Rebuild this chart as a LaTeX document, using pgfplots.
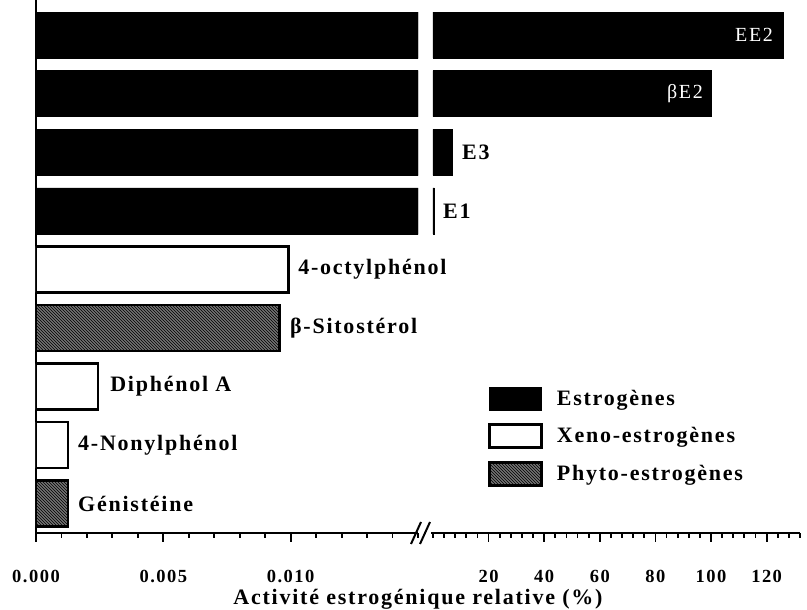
\documentclass[border=0pt]{standalone}
\usepackage{pgfplots}
\pgfplotsset{compat=1.18}
\usetikzlibrary{patterns}
\usepackage{fontspec}
\setmainfont{Liberation Serif}[LetterSpace=8]
\definecolor{phytogray}{gray}{0.45}
\begin{document}
\begin{tikzpicture}
\useasboundingbox (0pt,0pt) rectangle (807pt,610pt);
\pgfplotsset{
  brk/.style={
    scale only axis, anchor=south west,
    height=533pt,
    ymin=-0.5, ymax=8.6,
    ytick=\empty,
    axis x line*=bottom,
    x axis line style={line width=2.5pt,-},
    xtick align=outside,
    major tick length=9pt, minor tick length=5pt,
    tick style={line width=1.8pt, black},
    scaled x ticks=false,
    xticklabel style={font=\bfseries\fontsize{18.5}{18.5}\selectfont, yshift=-25pt},
    /pgf/number format/assume math mode=true,
    xbar, bar width=46pt, bar shift=0pt,
    clip mode=individual,
  },
  estro/.style={fill=black, draw=black, line width=0.6pt},
  xeno/.style={fill=white, draw=black, line width=2.5pt},
  phyto/.style={fill=phytogray, draw=black, line width=2.5pt,
    postaction={pattern=north west lines, pattern color=black}},
}
% ---------- left segment ----------
\begin{axis}[brk,
  at={(36pt,77pt)}, width=382pt,
  xmin=0, xmax=0.015,
  axis y line*=left,
  y axis line style={line width=2.5pt,-},
  xtick={0,0.005,0.010},
  xticklabels={0.000,0.005,0.010},
  minor xtick={0,0.001,...,0.0151},
]
\addplot[estro, restrict x to domain*=0:0.015] coordinates {(126,8) (100,7) (7,6) (0.5,5)};
\addplot[xeno] coordinates {(0.00992,4) (0.00244,2) (0.00126,1)};
\addplot[phyto] coordinates {(0.00957,3) (0.00126,0)};
\begin{scope}[font=\bfseries\fontsize{22}{22}\selectfont, inner sep=0pt]
\node[anchor=west] at (axis cs:0.01029,4) {4-octylphénol};
\node[anchor=west] at (axis cs:0.00997,3) {β-Sitostérol};
\node[anchor=west] at (axis cs:0.00291,2) {Diphénol A};
\node[anchor=west] at (axis cs:0.00165,1) {4-Nonylphénol};
\node[anchor=west] at (axis cs:0.00165,0) {Génistéine};
\end{scope}
\end{axis}
% ---------- right segment ----------
\begin{axis}[brk,
  at={(431pt,77pt)}, width=369pt,
  xmin=-0.7, xmax=132,
  axis y line=none,
  xtick={20,40,...,120},
  minor xtick={0,4,...,132},
  legend image code/.code={\draw[#1] (0pt,-11.5pt) rectangle (52pt,11.5pt);},
  legend cell align=left,
  legend style={draw=none, fill=none, at={(0.155,0.274)}, anchor=north west,
    inner sep=0pt, row sep=12.5pt,
    font=\bfseries\fontsize{22}{22}\selectfont,
    nodes={inner sep=2pt},
    /tikz/every odd column/.append style={column sep=12pt}},
]
\addplot[estro] coordinates {(126,8) (100,7) (7,6) (0.5,5)};
\addlegendentry{Estrogènes}
\addlegendimage{xeno}
\addlegendentry{Xeno-estrogènes}
\addlegendimage{phyto}
\addlegendentry{Phyto-estrogènes}
\node[anchor=east, text=white, inner sep=0pt, font=\fontsize{20}{20}\selectfont] at (axis cs:122.3,8) {EE2};
\node[anchor=east, text=white, inner sep=0pt, font=\fontsize{20}{20}\selectfont] at (axis cs:97.1,7) {βE2};
\node[anchor=west, inner sep=0pt, font=\bfseries\fontsize{22}{22}\selectfont] at (axis cs:10.4,6) {E3};
\node[anchor=west, inner sep=0pt, font=\bfseries\fontsize{22}{22}\selectfont] at (axis cs:3.6,5) {E1};
\end{axis}
% axis break marks
\draw[line width=2pt] (411pt,66pt) -- (421pt,88pt);
\draw[line width=2pt] (420pt,66pt) -- (430pt,88pt);
\node[anchor=base, font=\bfseries\fontsize{22}{22}\selectfont] at (418pt,5pt) {Activité estrogénique relative (\%)};
\end{tikzpicture}
\end{document}
